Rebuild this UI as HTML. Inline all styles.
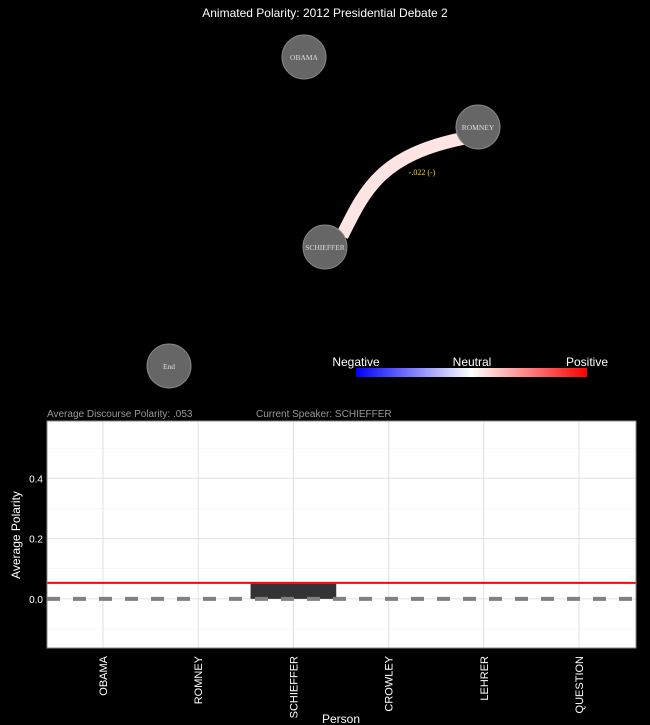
<!DOCTYPE html>
<html><head><meta charset="utf-8"><style>
html,body{margin:0;padding:0;background:#000;}
svg{display:block;font-family:"Liberation Sans",sans-serif;}
</style></head><body>
<svg id="c" width="650" height="725" xmlns="http://www.w3.org/2000/svg">
<defs><linearGradient id="g" x1="0" x2="1"><stop offset="0" stop-color="#0000ff"/><stop offset="0.5" stop-color="#ffffff"/><stop offset="1" stop-color="#ff0000"/></linearGradient></defs>
<text x="325" y="17" fill="#fff" font-size="12" text-anchor="middle">Animated Polarity: 2012 Presidential Debate 2</text>
<path d="M 342 236 C 365 190, 380 155, 465 138" stroke="#ffe4e4" stroke-width="13" fill="none"/>
<text x="422" y="175" fill="#ffd700" font-size="8" font-family="Liberation Serif,serif" text-anchor="middle">-.022 (-)</text>
<g><circle cx="304" cy="57" r="22" fill="#666" stroke="#888"/><text x="304" y="60" fill="#ddd" font-size="7.5" font-family="Liberation Serif,serif" text-anchor="middle">OBAMA</text></g>
<g><circle cx="478" cy="127" r="22" fill="#666" stroke="#888"/><text x="478" y="130" fill="#ddd" font-size="7.5" font-family="Liberation Serif,serif" text-anchor="middle">ROMNEY</text></g>
<g><circle cx="325" cy="247" r="22" fill="#666" stroke="#888"/><text x="325" y="250" fill="#ddd" font-size="7.5" font-family="Liberation Serif,serif" text-anchor="middle">SCHIEFFER</text></g>
<g><circle cx="169" cy="366" r="22" fill="#666" stroke="#888"/><text x="169" y="369" fill="#ddd" font-size="7.5" font-family="Liberation Serif,serif" text-anchor="middle">End</text></g>
<g>
<text x="356" y="366" fill="#fff" font-size="12" text-anchor="middle">Negative</text>
<text x="472" y="366" fill="#fff" font-size="12" text-anchor="middle">Neutral</text>
<text x="587" y="366" fill="#fff" font-size="12" text-anchor="middle">Positive</text>
<rect x="356" y="368" width="231" height="9" fill="url(#g)"/>
</g>
<text x="47" y="417" fill="#999" font-size="10">Average Discourse Polarity:  .053</text>
<text x="256" y="417" fill="#999" font-size="10">Current Speaker:   SCHIEFFER</text>
<rect x="47" y="421" width="589" height="227" fill="#fff"/>
<g id="grid"></g><g id="bars"></g><g id="lines"></g><g id="axes"></g>
<text transform="translate(20,535) rotate(-90)" fill="#fff" font-size="12" text-anchor="middle">Average Polarity</text>
<text x="341" y="723" fill="#fff" font-size="12" text-anchor="middle">Person</text>
</svg>
<script>
const categories=["OBAMA","ROMNEY","SCHIEFFER","CROWLEY","LEHRER","QUESTION"];
const values=[0,0,0.05,0,0,0];
const avgPolarity=0.053;
const yTicks=[0,0.2,0.4];
const yMinor=[-0.1,0.1,0.3,0.5];
const NS="http://www.w3.org/2000/svg";
const x0=47,x1=636,yTop=421,yBot=648,yMin=-0.163,yMax=0.59;
const band=95.2,xStart=103;
function xs(i){return xStart+band*i;}
function ys(v){return yBot-(v-yMin)/(yMax-yMin)*(yBot-yTop);}
function mk(t,a,p){const e=document.createElementNS(NS,t);for(const k in a)e.setAttribute(k,a[k]);p.appendChild(e);return e;}
const grid=document.getElementById('grid'),bars=document.getElementById('bars'),lines=document.getElementById('lines'),axes=document.getElementById('axes');
yMinor.forEach(v=>{const l=mk('line',{x1:x0,x2:x1,y1:ys(v),y2:ys(v),stroke:'#f2f2f2','stroke-width':0.6},grid);

});
yTicks.forEach(v=>{const l=mk('line',{x1:x0,x2:x1,y1:ys(v),y2:ys(v),stroke:'#e0e0e0','stroke-width':1},grid);


const t=mk('text',{x:x0-4,y:ys(v)+4,fill:'#fff','font-size':10,'text-anchor':'end'},axes);t.textContent=v.toFixed(1);

});
categories.forEach((c,i)=>{const l=mk('line',{x1:xs(i),x2:xs(i),y1:yTop,y2:yBot,stroke:'#e0e0e0','stroke-width':1},grid);


const v=values[i];
if(v!==0){const b=mk('rect',{x:xs(i)-band*0.45,width:band*0.9,y:Math.min(ys(v),ys(0)),height:Math.abs(ys(v)-ys(0)),fill:'#333'},bars);

}
const t=mk('text',{transform:`translate(${xs(i)+4},656) rotate(-90)`,fill:'#fff','font-size':11,'text-anchor':'end'},axes);t.textContent=c;

});
const r=mk('line',{x1:x0,x2:x1,y1:ys(avgPolarity),y2:ys(avgPolarity),stroke:'#ff0000','stroke-width':2},lines);


const z=mk('line',{x1:x0,x2:x1,y1:ys(0),y2:ys(0),stroke:'#808080','stroke-width':4,'stroke-dasharray':'13,13'},lines);


mk('rect',{x:x0,y:yTop,width:x1-x0,height:yBot-yTop,fill:'none',stroke:'#888','stroke-width':1},lines);
</script>
</body></html>
